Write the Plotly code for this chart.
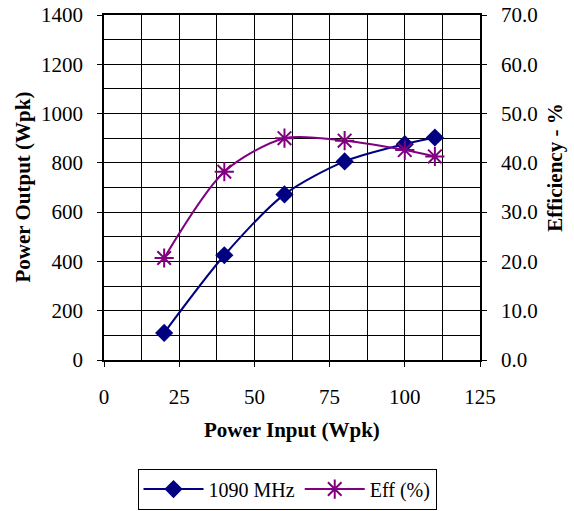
import plotly.graph_objects as go

power_input = [20, 40, 60, 80, 100, 110]
power_output = [110, 425, 672, 806, 876, 903]
efficiency = [20.7, 38.2, 45.0, 44.5, 42.6, 41.3]

FONT = "Liberation Serif, Times New Roman, serif"
NAVY = "#000080"
PURPLE = "#800080"
FS = 21

fig = go.Figure()
fig.add_trace(go.Scatter(
    x=power_input, y=power_output, name="1090 MHz",
    mode="lines+markers", line=dict(color=NAVY, width=2, shape="spline", smoothing=0.8),
    marker=dict(symbol="diamond", size=14, color=NAVY),
))
fig.add_trace(go.Scatter(
    x=power_input, y=efficiency, name="Eff (%)", yaxis="y2",
    mode="lines+markers", line=dict(color=PURPLE, width=2, shape="spline", smoothing=0.8),
    marker=dict(symbol="asterisk-open", size=16, color=PURPLE, line=dict(color=PURPLE, width=2)),
))

title_font = dict(family=FONT, size=FS, color="black")
fig.update_layout(
    width=574, height=511,
    margin=dict(l=104, r=94, t=15, b=151),
    paper_bgcolor="white", plot_bgcolor="white",
    font=dict(family=FONT, size=FS, color="black"),
    showlegend=True,
    legend=dict(
        orientation="h", xref="container", yref="container",
        x=0.5, xanchor="center", y=0.043, yanchor="middle",
        bordercolor="black", borderwidth=1, font=dict(family=FONT, size=20),
        itemwidth=60,
    ),
    xaxis=dict(
        range=[0, 125], dtick=25, tick0=0, automargin=False,
        showgrid=True, gridcolor="black", gridwidth=1,
        minor=dict(dtick=12.5, showgrid=True, gridcolor="black", gridwidth=1),
        showline=True, linecolor="black", linewidth=1.5, mirror=True,
        ticks="outside", ticklen=5, tickcolor="black", ticklabelstandoff=12,
        zeroline=False,
    ),
    yaxis=dict(
        range=[0, 1400], dtick=200, tick0=0, automargin=False,
        showgrid=True, gridcolor="black", gridwidth=1,
        minor=dict(dtick=100, showgrid=True, gridcolor="black", gridwidth=1),
        showline=True, linecolor="black", linewidth=1.5, mirror=True,
        ticks="outside", ticklen=5, tickcolor="black", ticklabelstandoff=10,
        zeroline=False,
    ),
    yaxis2=dict(
        range=[0, 70], dtick=10, tick0=0, tickformat=".1f", automargin=False,
        overlaying="y", side="right", showgrid=False, zeroline=False,
        showline=True, linecolor="black", linewidth=1.5,
        ticks="outside", ticklen=5, tickcolor="black", ticklabelstandoff=10,
    ),
    annotations=[
        dict(text="<b>Power Input (Wpk)</b>", xref="paper", yref="paper",
             x=0.5, y=-0.203, xanchor="center", yanchor="middle",
             showarrow=False, font=title_font),
        dict(text="<b>Power Output (Wpk)</b>", xref="paper", yref="paper",
             x=-0.218, y=0.5, xanchor="center", yanchor="middle", textangle=-90,
             showarrow=False, font=title_font),
        dict(text="<b>Efficiency - %</b>", xref="paper", yref="paper",
             x=1.199, y=0.557, xanchor="center", yanchor="middle", textangle=-90,
             showarrow=False, font=title_font),
    ],
)

post = (
    "document.body.style.margin='0';"
    "document.body.style.overflow='hidden';"
)
fig.write_html("out.html", config={"displayModeBar": False}, post_script=post)
